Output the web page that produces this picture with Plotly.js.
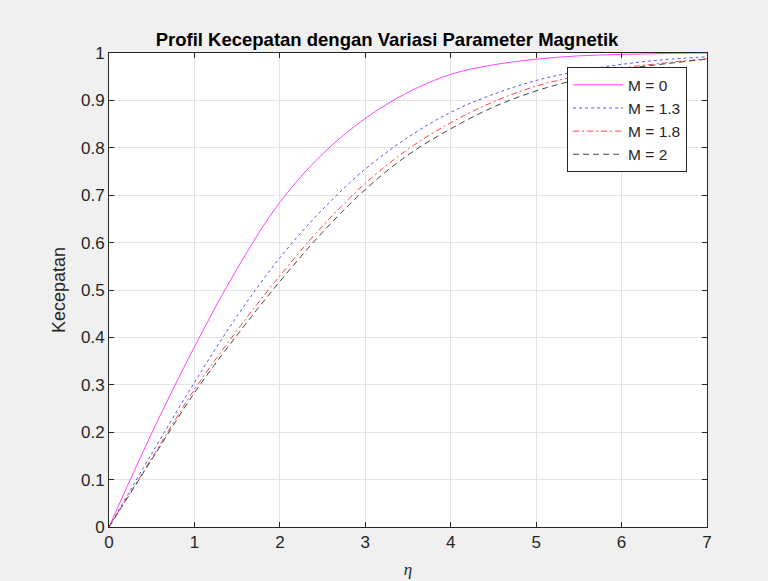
<!DOCTYPE html>
<html>
<head>
<meta charset="utf-8">
<script src="https://cdn.plot.ly/plotly-3.0.1.min.js"></script>
<style>html,body{margin:0;padding:0;background:#f0f0f0;}</style>
</head>
<body>
<div id="chart" style="width:768px;height:581px;"></div>
<script>
const eta = [0, 0.5, 1, 1.5, 2, 2.5, 3, 3.5, 4, 4.5, 5, 5.5, 6, 6.5, 7];
const velM0 = [0, 0.198, 0.38, 0.545, 0.685, 0.787, 0.862, 0.917, 0.955, 0.975, 0.987, 0.994, 0.997, 0.999, 1.0];
const velM13 = [0, 0.155, 0.305, 0.445, 0.568, 0.67, 0.755, 0.822, 0.875, 0.913, 0.942, 0.962, 0.976, 0.986, 0.992];
const velM18 = [0, 0.145, 0.29, 0.415, 0.53, 0.635, 0.725, 0.797, 0.853, 0.897, 0.93, 0.952, 0.968, 0.979, 0.988];
const velM2 = [0, 0.142, 0.283, 0.405, 0.518, 0.622, 0.712, 0.785, 0.84, 0.886, 0.92, 0.945, 0.965, 0.977, 0.987];
const seriesNames = ['M = 0', 'M = 1.3', 'M = 1.8', 'M = 2'];

const font = 'Liberation Sans, Arial, sans-serif';
const traces = [
  {x: eta, y: velM0, name: seriesNames[0], mode: 'lines', line: {color: '#ff44ff', width: 1, dash: 'solid', shape: 'spline'}},
  {x: eta, y: velM13, name: seriesNames[1], mode: 'lines', line: {color: '#5555ff', width: 1, dash: 'dot', shape: 'spline'}},
  {x: eta, y: velM18, name: seriesNames[2], mode: 'lines', line: {color: '#ff4444', width: 1, dash: '6px,3px,2px,3px', shape: 'spline'}},
  {x: eta, y: velM2, name: seriesNames[3], mode: 'lines', line: {color: '#444444', width: 1, dash: '6px,4px', shape: 'spline'}}
];
const axisCommon = {
  showline: true, linecolor: '#262626', linewidth: 1, mirror: 'ticks',
  ticks: 'inside', ticklen: 5, tickcolor: '#262626',
  showgrid: true, gridcolor: '#e3e3e3', gridwidth: 1,
  zeroline: false, tickfont: {family: font, size: 17, color: '#262626'}
};
const layout = {
  width: 768, height: 581,
  paper_bgcolor: '#f0f0f0', plot_bgcolor: '#ffffff',
  margin: {l: 109, r: 61, t: 53, b: 54},
  title: {text: '<b>Profil Kecepatan dengan Variasi Parameter Magnetik</b>', font: {family: font, size: 18.5, color: '#000000'}, x: 387/768, xref: 'container', xanchor: 'center', y: 1 - 40/581, yanchor: 'middle'},
  xaxis: Object.assign({}, axisCommon, {range: [0, 7], tickvals: [0,1,2,3,4,5,6,7], title: {text: '<i>η</i>', font: {family: 'Liberation Serif, Times New Roman, serif', size: 17, color: '#262626'}, standoff: 11}}),
  yaxis: Object.assign({}, axisCommon, {range: [0, 1], tickvals: [0,0.1,0.2,0.3,0.4,0.5,0.6,0.7,0.8,0.9,1], ticktext: ['0','0.1','0.2','0.3','0.4','0.5','0.6','0.7','0.8','0.9','1'], title: {text: 'Kecepatan', font: {family: font, size: 18, color: '#262626'}, standoff: 10}}),
  showlegend: true,
  legend: {x: 0.766, y: 0.97, xanchor: 'left', yanchor: 'top', bgcolor: '#ffffff', bordercolor: '#262626', borderwidth: 1, font: {family: font, size: 15.5, color: '#262626'}, tracegroupgap: 0, itemwidth: 50}
};
Plotly.newPlot('chart', traces, layout, {displayModeBar: false, staticPlot: true});
</script>
</body>
</html>
